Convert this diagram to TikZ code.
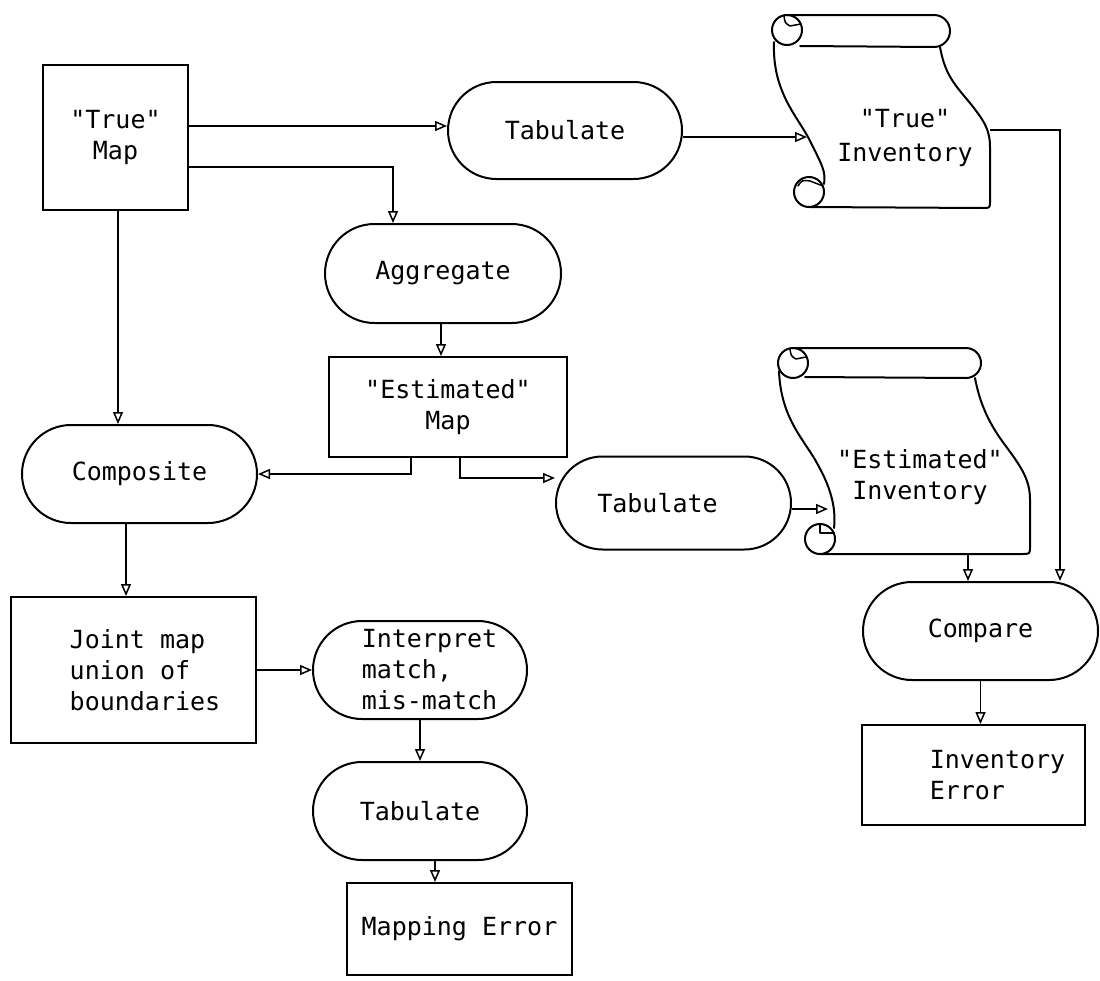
\documentclass[tikz,border=0pt]{standalone}
\usepackage{fontspec}
\setmonofont{DejaVu Sans Mono}
\usetikzlibrary{shapes.misc,arrows.meta,calc}
\begin{document}
\begin{tikzpicture}[x=1pt,y=-1pt,
  every node/.style={font=\ttfamily\fontsize{25}{31}\selectfont},
  box/.style={draw, line width=2pt, rectangle, inner sep=0pt, align=center},
  pill/.style={draw, line width=2pt, rounded rectangle, inner sep=0pt, align=center},
  arr/.style={line width=1.7pt, -{Triangle[open,length=12pt,width=10pt,line width=1.5pt]}},
  scroll/.style={line width=2pt, line join=round, line cap=round},
  curl/.style={line width=1.5pt, line join=round, line cap=round},
]
\useasboundingbox (0,0) rectangle (1100,980);

% ---------- nodes ----------
\node[box, minimum width=145pt, minimum height=145pt] (truemap) at (115.5,137.5) {"True"\\Map};
\node[pill, minimum width=234pt, minimum height=97pt] (tab1) at (565,130.5) {Tabulate};
\node[pill, minimum width=236pt, minimum height=99pt] (agg) at (443,273.5) {Aggregate};
\node[box, minimum width=238pt, minimum height=100pt] (estmap) at (448,407) {"Estimated"\\Map};
\node[pill, minimum width=235pt, minimum height=98pt] (comp) at (139.5,474) {Composite};
\node[pill, minimum width=235pt, minimum height=93pt] (tab2) at (673.5,503) {Tabulate\hspace*{32pt}};
\node[box, minimum width=245pt, minimum height=146pt, align=left] (joint) at (133.5,670)
  {\hspace*{23pt}Joint map\\\hspace*{23pt}union of\\\hspace*{23pt}boundaries};
\node[pill, minimum width=214pt, minimum height=98pt, align=left] (interp) at (420,670)
  {\hspace*{19pt}Interpret\\\hspace*{19pt}match,\\\hspace*{19pt}mis-match};
\node[pill, minimum width=214pt, minimum height=98pt] (tab3) at (420,811) {Tabulate};
\node[box, minimum width=225pt, minimum height=92pt] (maperr) at (459.5,929) {Mapping Error};
\node[pill, minimum width=235pt, minimum height=98pt] (compare) at (980.5,631) {Compare};
\node[box, minimum width=223pt, minimum height=100pt, align=left] (inverr) at (973.5,775)
  {\hspace*{48pt}Inventory\\\hspace*{48pt}Error};

% ---------- "True" Inventory scroll ----------
\node[align=center, font=\ttfamily\fontsize{25}{34}\selectfont] (trueinv) at (905,138) {"True"\\Inventory};
\draw[scroll] (787,30) circle[radius=15pt];
\draw[scroll] (787,15) -- (934,15) arc[start angle=90, end angle=-90, radius=16pt] -- (800,46);
\draw[curl] (784,16) .. controls (785,23) .. (790,26) -- (801,24);
\draw[scroll] (774,42) .. controls (772,95) and (800,118) .. (812,145)
  .. controls (822,165) and (826,172) .. (824,184);
\draw[scroll] (809,192) circle[radius=15pt];
\draw[curl] (798,186) .. controls (802,180) .. (810,181) -- (823,186);
\draw[scroll] (940,47) .. controls (945,75) and (955,85) .. (970,103)
  .. controls (985,122) and (990,130) .. (990,148) -- (990,201)
  .. controls (990,208) .. (983,208) -- (809,207);
\coordinate (trueinvW) at (807,137);
\coordinate (trueinvE) at (990,130);

% ---------- "Estimated" Inventory scroll ----------
\node[align=center] (estinv) at (920,477) {"Estimated"\\Inventory};
\draw[scroll] (793,363) circle[radius=15pt];
\draw[scroll] (793,348) -- (966,348) arc[start angle=90, end angle=-90, radius=15pt] -- (805,377);
\draw[curl] (790,349) .. controls (791,356) .. (796,359) -- (806,357);
\draw[scroll] (779,371) .. controls (781,420) and (805,440) .. (818,465)
  .. controls (832,490) and (836,510) .. (834,528);
\draw[scroll] (820,539) circle[radius=15pt];
\draw[curl] (820,525) -- (820,533) -- (834,533);
\draw[scroll] (975,378) .. controls (980,405) and (990,425) .. (1005,445)
  .. controls (1022,468) and (1030,480) .. (1030,500) -- (1030,546)
  .. controls (1030,554) .. (1022,554) -- (820,554);
\coordinate (estinvW) at (828,509);
\coordinate (estinvS) at (968,554);

% ---------- connectors ----------
\draw[arr] (truemap.east |- 0,126) -- (tab1.west |- 0,126);
\draw[arr] (truemap.east |- 0,167) -| (agg.north -| 393,0);
\draw[arr] (tab1.east |- 0,137) -- (trueinvW);
\draw[arr] (trueinvE) -| (compare.north -| 1060,0);
\draw[arr] (agg.south -| 441,0) -- (estmap.north -| 441,0);
\draw[arr] (estmap.south -| 411,0) |- (comp.east);
\draw[arr] (estmap.south -| 460,0) |- (tab2.west |- 0,478);
\draw[arr] (tab2.east |- 0,509) -- (estinvW);
\draw[arr] (estinvS) -- (estinvS |- compare.north);
\draw[arr] (truemap.south -| 118,0) -- (comp.north -| 118,0);
\draw[arr] (comp.south -| 126,0) -- (joint.north -| 126,0);
\draw[arr] (joint.east) -- (joint.east -| interp.west);
\draw[arr] (interp.south) -- (tab3.north);
\draw[arr] (tab3.south -| 435,0) -- (maperr.north -| 435,0);
\draw[arr] (compare.south) -- (compare.south |- inverr.north);
\end{tikzpicture}
\end{document}
